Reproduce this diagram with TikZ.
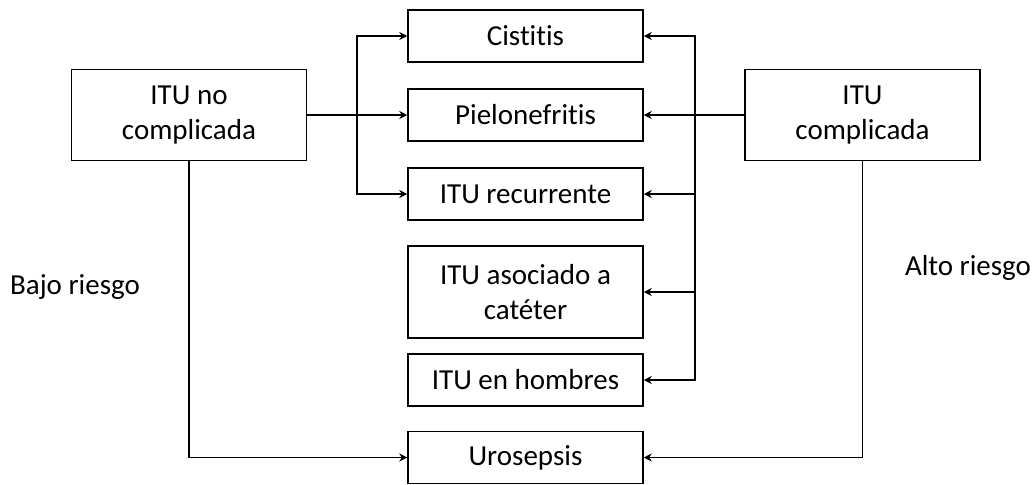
\documentclass[tikz,border=0pt]{standalone}
\usepackage{fontspec}
\setmainfont{Carlito}[RawFeature=-liga]
\usetikzlibrary{positioning,arrows.meta}

\tikzset{
  box/.style={draw, line width=0.75pt, minimum width=117.5pt, minimum height=26pt, align=center, inner sep=2pt, font=\fontsize{14.5}{17.5}\selectfont},
  arr/.style={line width=0.75pt, -{Stealth[length=4pt,width=4pt]}}
}

\begin{document}
\begin{tikzpicture}[x=0.5pt, y=-0.5pt]
\useasboundingbox (0,0) rectangle (1035,484);
% Main boxes
\node[box, minimum height=45.5pt] (nocomp) at (189,115) {ITU no\\complicada};
\node[box, minimum height=45.5pt] (comp) at (862.5,115) {ITU\\complicada};
% Middle column
\node[box] (cist) at (525.5,36) {Cistitis};
\node[box] (piel) at (525.5,115) {Pielonefritis};
\node[box] (recu) at (525.5,194) {ITU recurrente};
\node[box, minimum height=46pt] (cate) at (525.5,292) {ITU asociado a\\cat\'eter};
\node[box] (homb) at (525.5,380) {ITU en hombres};
\node[box] (uros) at (525.5,457.5) {Urosepsis};
% Risk labels
\node[font=\fontsize{14.5}{17.5}\selectfont] (bajo) at (75,287) {Bajo riesgo};
\node[font=\fontsize{14.5}{17.5}\selectfont] (alto) at (968,268) {Alto riesgo};
% Bus points
\coordinate (busl) at (357,115);
\coordinate (busr) at (695,115);
% Left connectors
\draw[arr] (nocomp) -- (piel);
\draw[arr] (busl) |- (cist);
\draw[arr] (busl) |- (recu);
\draw[arr] (nocomp.south) |- (uros);
% Right connectors
\draw[arr] (comp) -- (piel);
\draw[arr] (busr) |- (cist);
\draw[arr] (busr) |- (recu);
\draw[arr] (busr) |- (cate);
\draw[arr] (busr) |- (homb);
\draw[arr] (comp.south) |- (uros);
\end{tikzpicture}
\end{document}
